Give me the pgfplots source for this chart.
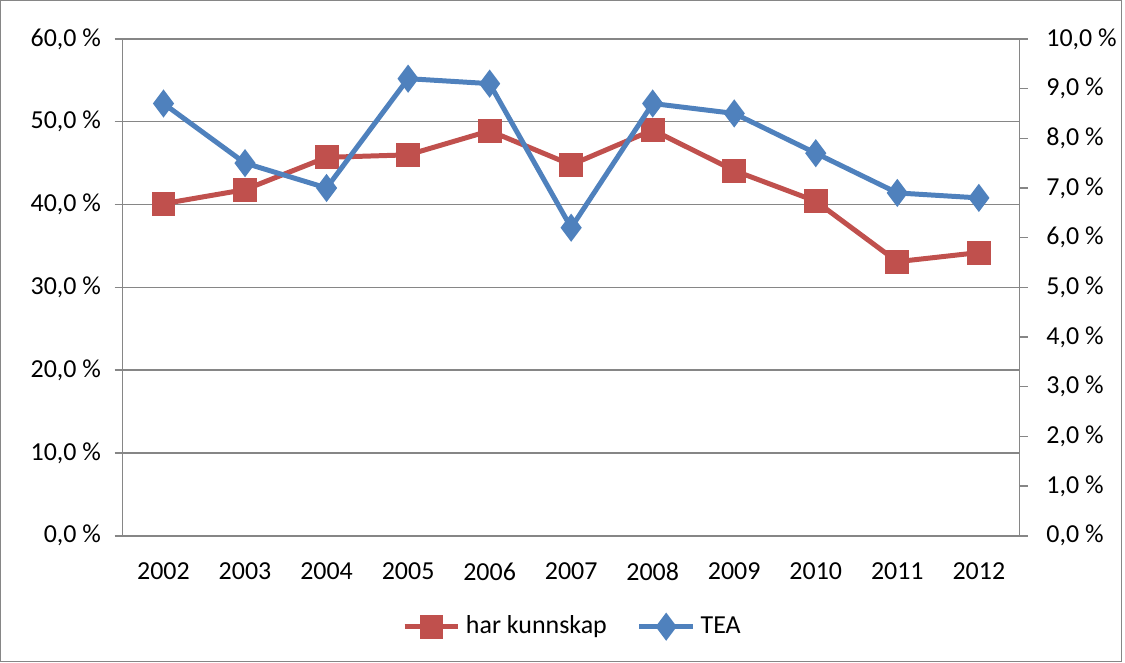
\documentclass[border=0pt]{standalone}
\usepackage{pgfplots}
\pgfplotsset{compat=1.18}
\usepackage{fontspec}
\setmainfont{Carlito}

\definecolor{xlred}{HTML}{C0504D}
\definecolor{xlblue}{HTML}{4F81BD}
\definecolor{xlgrid}{HTML}{868686}

\pgfplotsset{
  chartbase/.style={
    scale only axis,
    width=359.6pt, height=199.2pt,
    at={(49.2pt,-214.8pt)}, anchor=south west,
    xmin=-0.5, xmax=10.5,
    ymin=0,
    axis line style={xlgrid, line width=0.6pt},
    tick style={xlgrid, line width=0.6pt},
    tick align=outside,
    major tick length=3.2pt,
    minor tick length=3.2pt,
    tick label style={font=\fontsize{10.4}{12}\selectfont},
  },
}

\begin{document}
\begin{tikzpicture}
\draw[xlgrid, line width=0.5pt] (0.25pt,-0.25pt) rectangle (449.75pt,-265.35pt);

% left axis: har kunnskap
\begin{axis}[chartbase,
  ymax=60,
  ytick={0,10,...,60},
  yticklabels={{0,0 \%},{10,0 \%},{20,0 \%},{30,0 \%},{40,0 \%},{50,0 \%},{60,0 \%}},
  ymajorgrids,
  grid style={xlgrid, line width=0.6pt},
  xtick={0,...,10},
  xticklabels={2002,2003,2004,2005,2006,2007,2008,2009,2010,2011,2012},
  minor xtick={-0.5,0.5,...,10.5},
  xtick style={draw=none},
  minor x tick style={xlgrid, line width=0.6pt},
  xtick pos=lower, ytick pos=left,
  xticklabel style={yshift=-4pt},
  yticklabel style={xshift=-2pt},
]
\addplot[xlred, line width=2pt, mark=square*, mark size=3.8pt] coordinates {
  (0,40.1) (1,41.8) (2,45.7) (3,46.0) (4,48.9) (5,44.8)
  (6,49.0) (7,44.1) (8,40.4) (9,33.1) (10,34.2)
};
\end{axis}

% right axis: TEA
\begin{axis}[chartbase,
  ymax=10,
  axis y line*=right,
  axis x line=none,
  ytick={0,1,...,10},
  yticklabels={{0,0 \%},{1,0 \%},{2,0 \%},{3,0 \%},{4,0 \%},{5,0 \%},{6,0 \%},{7,0 \%},{8,0 \%},{9,0 \%},{10,0 \%}},
  yticklabel style={xshift=4pt},
  legend style={at={(0.503,-0.183)}, anchor=center, draw=none, fill=none,
    legend columns=2, font=\fontsize{10.4}{12}\selectfont,
    /tikz/every even column/.append style={column sep=10pt},
    inner sep=0pt},
  legend image code/.code={
    \draw[mark repeat=2, mark phase=2] plot coordinates {(0cm,0cm) (0.38cm,0cm) (0.76cm,0cm)};
  },
]
\addlegendimage{xlred, line width=2pt, mark=square*, mark size=3.8pt}
\addlegendentry{har kunnskap}
\addplot[xlblue, line width=2pt, mark=diamond*, mark size=4pt] coordinates {
  (0,8.7) (1,7.5) (2,7.0) (3,9.2) (4,9.1) (5,6.2)
  (6,8.7) (7,8.5) (8,7.7) (9,6.9) (10,6.8)
};
\addlegendentry{TEA}
\end{axis}
\end{tikzpicture}
\end{document}
